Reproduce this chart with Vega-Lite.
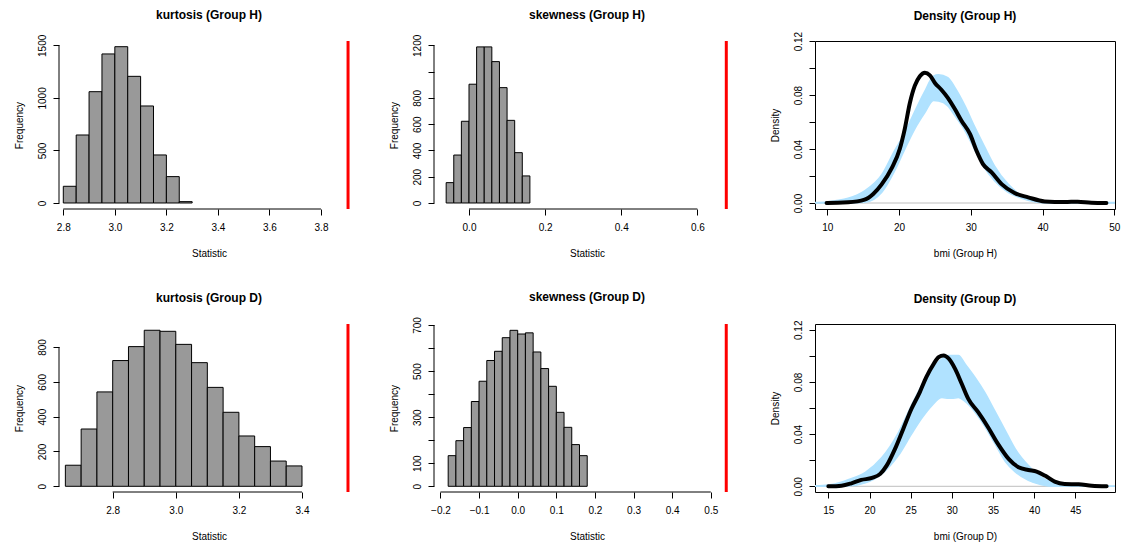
{
  "$schema": "https://vega.github.io/schema/vega-lite/v6.json",
  "padding": {"left": 13, "top": 9, "right": 0, "bottom": 0},
  "columns": 3,
  "bounds": "flush",
  "spacing": {"row": 115, "column": 75},
  "datasets": {
    "kH": [
      {"x": 2.80, "x2": 2.85, "count": 159}, {"x": 2.85, "x2": 2.90, "count": 647},
      {"x": 2.90, "x2": 2.95, "count": 1059}, {"x": 2.95, "x2": 3.00, "count": 1418},
      {"x": 3.00, "x2": 3.05, "count": 1487}, {"x": 3.05, "x2": 3.10, "count": 1205},
      {"x": 3.10, "x2": 3.15, "count": 923}, {"x": 3.15, "x2": 3.20, "count": 457},
      {"x": 3.20, "x2": 3.25, "count": 251}, {"x": 3.25, "x2": 3.30, "count": 13}
    ],
    "sH": [
      {"x": -0.06, "x2": -0.04, "count": 155}, {"x": -0.04, "x2": -0.02, "count": 365},
      {"x": -0.02, "x2": 0.00, "count": 622}, {"x": 0.00, "x2": 0.02, "count": 904},
      {"x": 0.02, "x2": 0.04, "count": 1188}, {"x": 0.04, "x2": 0.06, "count": 1188},
      {"x": 0.06, "x2": 0.08, "count": 1076}, {"x": 0.08, "x2": 0.10, "count": 878},
      {"x": 0.10, "x2": 0.12, "count": 629}, {"x": 0.12, "x2": 0.14, "count": 383},
      {"x": 0.14, "x2": 0.16, "count": 206}
    ],
    "kD": [
      {"x": 2.65, "x2": 2.70, "count": 121}, {"x": 2.70, "x2": 2.75, "count": 329},
      {"x": 2.75, "x2": 2.80, "count": 542}, {"x": 2.80, "x2": 2.85, "count": 722},
      {"x": 2.85, "x2": 2.90, "count": 802}, {"x": 2.90, "x2": 2.95, "count": 896},
      {"x": 2.95, "x2": 3.00, "count": 890}, {"x": 3.00, "x2": 3.05, "count": 815},
      {"x": 3.05, "x2": 3.10, "count": 710}, {"x": 3.10, "x2": 3.15, "count": 568},
      {"x": 3.15, "x2": 3.20, "count": 425}, {"x": 3.20, "x2": 3.25, "count": 289},
      {"x": 3.25, "x2": 3.30, "count": 228}, {"x": 3.30, "x2": 3.35, "count": 145},
      {"x": 3.35, "x2": 3.40, "count": 117}
    ],
    "sD": [
      {"x": -0.18, "x2": -0.16, "count": 133}, {"x": -0.16, "x2": -0.14, "count": 198},
      {"x": -0.14, "x2": -0.12, "count": 255}, {"x": -0.12, "x2": -0.10, "count": 368},
      {"x": -0.10, "x2": -0.08, "count": 456}, {"x": -0.08, "x2": -0.06, "count": 546},
      {"x": -0.06, "x2": -0.04, "count": 586}, {"x": -0.04, "x2": -0.02, "count": 645},
      {"x": -0.02, "x2": 0.00, "count": 677}, {"x": 0.00, "x2": 0.02, "count": 661},
      {"x": 0.02, "x2": 0.04, "count": 666}, {"x": 0.04, "x2": 0.06, "count": 583},
      {"x": 0.06, "x2": 0.08, "count": 511}, {"x": 0.08, "x2": 0.10, "count": 434},
      {"x": 0.10, "x2": 0.12, "count": 321}, {"x": 0.12, "x2": 0.14, "count": 256},
      {"x": 0.14, "x2": 0.16, "count": 181}, {"x": 0.16, "x2": 0.18, "count": 133}
    ],
    "obsH": [
      {"x": 9.9, "y": 0}, {"x": 10.0, "y": 0}, {"x": 12.9, "y": 0.0005}, {"x": 15.2, "y": 0.0025},
      {"x": 16.4, "y": 0.0067}, {"x": 17.6, "y": 0.014}, {"x": 19.0, "y": 0.026}, {"x": 20.1, "y": 0.040},
      {"x": 20.8, "y": 0.055}, {"x": 21.5, "y": 0.074}, {"x": 22.2, "y": 0.087}, {"x": 22.9, "y": 0.094},
      {"x": 23.6, "y": 0.0966}, {"x": 24.3, "y": 0.0946}, {"x": 25.0, "y": 0.089}, {"x": 25.9, "y": 0.084},
      {"x": 26.8, "y": 0.078}, {"x": 27.8, "y": 0.0695}, {"x": 28.7, "y": 0.061}, {"x": 29.9, "y": 0.051},
      {"x": 30.8, "y": 0.0387}, {"x": 31.7, "y": 0.0288}, {"x": 32.9, "y": 0.0227}, {"x": 34.3, "y": 0.014},
      {"x": 36.1, "y": 0.0074}, {"x": 38.0, "y": 0.0042}, {"x": 40.3, "y": 0.0012}, {"x": 43.1, "y": 0.0007},
      {"x": 44.9, "y": 0.001}, {"x": 46.8, "y": 0.0002}, {"x": 48.9, "y": 0}
    ],
    "bandH": [
      {"x": 8.3, "lo": 0, "hi": 0.0004}, {"x": 10.0, "lo": 0, "hi": 0.0008}, {"x": 11.1, "lo": 0, "hi": 0.0017},
      {"x": 12.9, "lo": 0, "hi": 0.0035}, {"x": 15.2, "lo": 0.0005, "hi": 0.009}, {"x": 17.6, "lo": 0.008, "hi": 0.021},
      {"x": 19.4, "lo": 0.024, "hi": 0.039}, {"x": 20.8, "lo": 0.040, "hi": 0.052}, {"x": 22.2, "lo": 0.055, "hi": 0.068},
      {"x": 23.6, "lo": 0.067, "hi": 0.083}, {"x": 24.8, "lo": 0.076, "hi": 0.094}, {"x": 25.5, "lo": 0.0757, "hi": 0.095},
      {"x": 26.8, "lo": 0.072, "hi": 0.093}, {"x": 27.8, "lo": 0.0646, "hi": 0.0855}, {"x": 29.2, "lo": 0.0535, "hi": 0.072},
      {"x": 30.5, "lo": 0.040, "hi": 0.057}, {"x": 31.9, "lo": 0.026, "hi": 0.042}, {"x": 33.3, "lo": 0.0165, "hi": 0.0276},
      {"x": 35.2, "lo": 0.0079, "hi": 0.014}, {"x": 37.1, "lo": 0.0035, "hi": 0.0054}, {"x": 38.9, "lo": 0.001, "hi": 0.0017},
      {"x": 40.8, "lo": 0, "hi": 0.0005}, {"x": 43.0, "lo": 0, "hi": 0.0003}, {"x": 46.0, "lo": 0, "hi": 0.0003},
      {"x": 50.1, "lo": 0, "hi": 0.0003}
    ],
    "obsD": [
      {"x": 15.0, "y": 0}, {"x": 16.6, "y": 0.0005}, {"x": 17.8, "y": 0.0023}, {"x": 19.0, "y": 0.0049},
      {"x": 20.3, "y": 0.0064}, {"x": 21.3, "y": 0.0095}, {"x": 22.1, "y": 0.016}, {"x": 23.1, "y": 0.0287},
      {"x": 24.1, "y": 0.044}, {"x": 25.1, "y": 0.0594}, {"x": 26.1, "y": 0.072}, {"x": 26.9, "y": 0.0837},
      {"x": 27.8, "y": 0.0939}, {"x": 28.4, "y": 0.099}, {"x": 29.0, "y": 0.1003}, {"x": 29.6, "y": 0.098},
      {"x": 30.4, "y": 0.090}, {"x": 31.2, "y": 0.0786}, {"x": 32.0, "y": 0.067}, {"x": 33.2, "y": 0.0568},
      {"x": 34.4, "y": 0.0453}, {"x": 35.6, "y": 0.0325}, {"x": 36.9, "y": 0.021}, {"x": 38.1, "y": 0.0146},
      {"x": 39.3, "y": 0.0125}, {"x": 40.3, "y": 0.0113}, {"x": 41.3, "y": 0.0082}, {"x": 42.5, "y": 0.0036},
      {"x": 43.7, "y": 0.0018}, {"x": 45.4, "y": 0.0015}, {"x": 47.0, "y": 0.0005}, {"x": 48.8, "y": 0}
    ],
    "bandD": [
      {"x": 13.4, "lo": 0, "hi": 0.0004}, {"x": 15.0, "lo": 0, "hi": 0.001}, {"x": 15.8, "lo": 0, "hi": 0.0018},
      {"x": 17.4, "lo": 0.0002, "hi": 0.005}, {"x": 19.5, "lo": 0.0026, "hi": 0.0107}, {"x": 21.5, "lo": 0.0095, "hi": 0.022},
      {"x": 23.5, "lo": 0.0235, "hi": 0.041}, {"x": 25.1, "lo": 0.040, "hi": 0.062}, {"x": 26.3, "lo": 0.0517, "hi": 0.077},
      {"x": 27.6, "lo": 0.062, "hi": 0.090}, {"x": 28.8, "lo": 0.068, "hi": 0.0977}, {"x": 29.6, "lo": 0.0675, "hi": 0.1003},
      {"x": 30.0, "lo": 0.0675, "hi": 0.1003}, {"x": 30.8, "lo": 0.068, "hi": 0.1003}, {"x": 31.6, "lo": 0.065, "hi": 0.0939},
      {"x": 32.8, "lo": 0.057, "hi": 0.0837}, {"x": 34.0, "lo": 0.046, "hi": 0.072}, {"x": 35.2, "lo": 0.033, "hi": 0.058},
      {"x": 36.5, "lo": 0.019, "hi": 0.0427}, {"x": 37.7, "lo": 0.011, "hi": 0.0287}, {"x": 39.3, "lo": 0.0045, "hi": 0.0159},
      {"x": 40.9, "lo": 0.0012, "hi": 0.0069}, {"x": 42.5, "lo": 0, "hi": 0.0026}, {"x": 44.1, "lo": 0, "hi": 0.0005},
      {"x": 46.0, "lo": 0, "hi": 0.0003}, {"x": 49.8, "lo": 0, "hi": 0.0003}
    ]
  },
  "concat": [
    {
      "width": 300, "height": 168,
      "title": {"text": "kurtosis (Group H)", "offset": 12},
      "layer": [
        {
          "data": {"name": "kH"},
          "mark": {"type": "rect", "fill": "#999999", "stroke": "black", "strokeWidth": 1},
          "encoding": {
            "x": {"field": "x", "type": "quantitative", "scale": {"domain": [2.7833, 3.9475], "nice": false, "zero": false},
                  "axis": {"values": [2.8, 3.0, 3.2, 3.4, 3.6, 3.8], "tickCount": 50, "format": ".1f", "title": "Statistic"}},
            "x2": {"field": "x2"},
            "y": {"field": "count", "type": "quantitative", "scale": {"domain": [-57.1, 1541.2], "nice": false, "zero": false},
                  "axis": {"values": [0, 500, 1000, 1500], "tickCount": 50, "format": "d", "title": "Frequency"}},
            "y2": {"datum": 0}
          }
        },
        {
          "data": {"values": [{"x": 2.8, "x2": 3.8}]},
          "mark": {"type": "rule", "color": "black", "strokeWidth": 1},
          "encoding": {"x": {"field": "x", "type": "quantitative", "title": "Statistic"}, "x2": {"field": "x2"}, "y": {"value": "height"}}
        },
        {
          "data": {"values": [{"y": 0, "y2": 1500}]},
          "mark": {"type": "rule", "color": "black", "strokeWidth": 1},
          "encoding": {"y": {"field": "y", "type": "quantitative", "title": "Frequency"}, "y2": {"field": "y2"}, "x": {"value": 0}}
        },
        {
          "data": {"values": [{"x": 3.905}]},
          "mark": {"type": "rule", "color": "#FF0000", "strokeWidth": 3},
          "encoding": {"x": {"field": "x", "type": "quantitative", "title": "Statistic"}}
        }
      ]
    },
    {
      "width": 306, "height": 168,
      "title": {"text": "skewness (Group H)", "offset": 12},
      "layer": [
        {
          "data": {"name": "sH"},
          "mark": {"type": "rect", "fill": "#999999", "stroke": "black", "strokeWidth": 1},
          "encoding": {
            "x": {"field": "x", "type": "quantitative", "scale": {"domain": [-0.09196, 0.712], "nice": false, "zero": false},
                  "axis": {"values": [0.0, 0.2, 0.4, 0.6], "tickCount": 50, "format": ".1f", "title": "Statistic"}},
            "x2": {"field": "x2"},
            "y": {"field": "count", "type": "quantitative", "scale": {"domain": [-45.7, 1232.9], "nice": false, "zero": false},
                  "axis": {"values": [0, 200, 400, 600, 800, 1000, 1200], "tickCount": 50, "format": "d", "labelExpr": "datum.value == 1000 ? '' : datum.label", "title": "Frequency"}},
            "y2": {"datum": 0}
          }
        },
        {
          "data": {"values": [{"x": 0.0, "x2": 0.6}]},
          "mark": {"type": "rule", "color": "black", "strokeWidth": 1},
          "encoding": {"x": {"field": "x", "type": "quantitative", "title": "Statistic"}, "x2": {"field": "x2"}, "y": {"value": "height"}}
        },
        {
          "data": {"values": [{"y": 0, "y2": 1200}]},
          "mark": {"type": "rule", "color": "black", "strokeWidth": 1},
          "encoding": {"y": {"field": "y", "type": "quantitative", "title": "Frequency"}, "y2": {"field": "y2"}, "x": {"value": 0}}
        },
        {
          "data": {"values": [{"x": 0.676}]},
          "mark": {"type": "rule", "color": "#FF0000", "strokeWidth": 3},
          "encoding": {"x": {"field": "x", "type": "quantitative", "title": "Statistic"}}
        }
      ]
    },
    {
      "width": 300, "height": 168,
      "title": {"text": "Density (Group H)", "offset": 8},
      "view": {"stroke": "black", "strokeWidth": 1},
      "layer": [
        {
          "data": {"values": [{"y": 0}]},
          "mark": {"type": "rule", "color": "#BEBEBE", "strokeWidth": 1},
          "encoding": {"y": {"field": "y", "type": "quantitative", "title": "Density"}}
        },
        {
          "data": {"name": "bandH"},
          "mark": {"type": "area", "fill": "#B0E2FF", "stroke": "#B0E2FF", "strokeWidth": 1.5, "interpolate": "monotone", "clip": true},
          "encoding": {
            "x": {"field": "x", "type": "quantitative", "scale": {"domain": [8.286, 50.1], "nice": false, "zero": false},
                  "axis": {"values": [10, 20, 30, 40, 50], "tickCount": 50, "format": "d", "title": "bmi (Group H)"}},
            "y": {"field": "hi", "type": "quantitative", "scale": {"domain": [-0.00444, 0.1201], "nice": false, "zero": false},
                  "axis": {"values": [0, 0.02, 0.04, 0.06, 0.08, 0.10, 0.12], "tickCount": 50, "labelExpr": "round(datum.value * 100) % 4 == 0 ? format(datum.value, '.2f') : ''", "title": "Density"}},
            "y2": {"field": "lo"}
          }
        },
        {
          "data": {"name": "obsH"},
          "mark": {"type": "line", "color": "black", "strokeWidth": 4, "interpolate": "monotone", "strokeCap": "round", "strokeJoin": "round"},
          "encoding": {
            "x": {"field": "x", "type": "quantitative", "title": "bmi (Group H)"},
            "y": {"field": "y", "type": "quantitative", "title": "Density"}
          }
        }
      ]
    },
    {
      "width": 300, "height": 168,
      "title": {"text": "kurtosis (Group D)", "offset": 18},
      "layer": [
        {
          "data": {"name": "kD"},
          "mark": {"type": "rect", "fill": "#999999", "stroke": "black", "strokeWidth": 1},
          "encoding": {
            "x": {"field": "x", "type": "quantitative", "scale": {"domain": [2.6298, 3.5807], "nice": false, "zero": false},
                  "axis": {"values": [2.8, 3.0, 3.2, 3.4], "tickCount": 50, "format": ".1f", "title": "Statistic"}},
            "x2": {"field": "x2"},
            "y": {"field": "count", "type": "quantitative", "scale": {"domain": [-32.7, 931.9], "nice": false, "zero": false},
                  "axis": {"values": [0, 200, 400, 600, 800], "tickCount": 50, "format": "d", "title": "Frequency"}},
            "y2": {"datum": 0}
          }
        },
        {
          "data": {"values": [{"x": 2.8, "x2": 3.4}]},
          "mark": {"type": "rule", "color": "black", "strokeWidth": 1},
          "encoding": {"x": {"field": "x", "type": "quantitative", "title": "Statistic"}, "x2": {"field": "x2"}, "y": {"value": "height"}}
        },
        {
          "data": {"values": [{"y": 0, "y2": 800}]},
          "mark": {"type": "rule", "color": "black", "strokeWidth": 1},
          "encoding": {"y": {"field": "y", "type": "quantitative", "title": "Frequency"}, "y2": {"field": "y2"}, "x": {"value": 0}}
        },
        {
          "data": {"values": [{"x": 3.5458}]},
          "mark": {"type": "rule", "color": "#FF0000", "strokeWidth": 3},
          "encoding": {"x": {"field": "x", "type": "quantitative", "title": "Statistic"}}
        }
      ]
    },
    {
      "width": 306, "height": 168,
      "title": {"text": "skewness (Group D)", "offset": 13},
      "layer": [
        {
          "data": {"name": "sD"},
          "mark": {"type": "rect", "fill": "#999999", "stroke": "black", "strokeWidth": 1},
          "encoding": {
            "x": {"field": "x", "type": "quantitative", "scale": {"domain": [-0.2167, 0.5756], "nice": false, "zero": false},
                  "axis": {"values": [-0.2, -0.1, 0.0, 0.1, 0.2, 0.3, 0.4, 0.5], "tickCount": 50, "format": ".1f", "labelExpr": "replace(datum.label, '-', '\u2212')", "title": "Statistic"}},
            "x2": {"field": "x2"},
            "y": {"field": "count", "type": "quantitative", "scale": {"domain": [-24.7, 704.4], "nice": false, "zero": false},
                  "axis": {"values": [0, 100, 200, 300, 400, 500, 600, 700], "tickCount": 50, "format": "d", "labelExpr": "(datum.value == 200 || datum.value == 400 || datum.value == 600) ? '' : datum.label", "title": "Frequency"}},
            "y2": {"datum": 0}
          }
        },
        {
          "data": {"values": [{"x": -0.2, "x2": 0.5}]},
          "mark": {"type": "rule", "color": "black", "strokeWidth": 1},
          "encoding": {"x": {"field": "x", "type": "quantitative", "title": "Statistic"}, "x2": {"field": "x2"}, "y": {"value": "height"}}
        },
        {
          "data": {"values": [{"y": 0, "y2": 700}]},
          "mark": {"type": "rule", "color": "black", "strokeWidth": 1},
          "encoding": {"y": {"field": "y", "type": "quantitative", "title": "Frequency"}, "y2": {"field": "y2"}, "x": {"value": 0}}
        },
        {
          "data": {"values": [{"x": 0.540}]},
          "mark": {"type": "rule", "color": "#FF0000", "strokeWidth": 3},
          "encoding": {"x": {"field": "x", "type": "quantitative", "title": "Statistic"}}
        }
      ]
    },
    {
      "width": 300, "height": 168,
      "title": {"text": "Density (Group D)", "offset": 14},
      "view": {"stroke": "black", "strokeWidth": 1},
      "layer": [
        {
          "data": {"values": [{"y": 0}]},
          "mark": {"type": "rule", "color": "#BEBEBE", "strokeWidth": 1},
          "encoding": {"y": {"field": "y", "type": "quantitative", "title": "Density"}}
        },
        {
          "data": {"name": "bandD"},
          "mark": {"type": "area", "fill": "#B0E2FF", "stroke": "#B0E2FF", "strokeWidth": 1.5, "interpolate": "monotone", "clip": true},
          "encoding": {
            "x": {"field": "x", "type": "quantitative", "scale": {"domain": [13.38, 49.82], "nice": false, "zero": false},
                  "axis": {"values": [15, 20, 25, 30, 35, 40, 45], "tickCount": 50, "format": "d", "title": "bmi (Group D)"}},
            "y": {"field": "hi", "type": "quantitative", "scale": {"domain": [-0.00437, 0.1244], "nice": false, "zero": false},
                  "axis": {"values": [0, 0.02, 0.04, 0.06, 0.08, 0.10, 0.12], "tickCount": 50, "labelExpr": "round(datum.value * 100) % 4 == 0 ? format(datum.value, '.2f') : ''", "title": "Density"}},
            "y2": {"field": "lo"}
          }
        },
        {
          "data": {"name": "obsD"},
          "mark": {"type": "line", "color": "black", "strokeWidth": 4, "interpolate": "monotone", "strokeCap": "round", "strokeJoin": "round"},
          "encoding": {
            "x": {"field": "x", "type": "quantitative", "title": "bmi (Group D)"},
            "y": {"field": "y", "type": "quantitative", "title": "Density"}
          }
        }
      ]
    }
  ],
  "config": {
    "font": "Liberation Sans",
    "view": {"stroke": null},
    "title": {"font": "Liberation Sans", "fontSize": 12, "fontWeight": "bold", "color": "black", "anchor": "middle", "frame": "group"},
    "axis": {
      "domain": false, "grid": false, "ticks": true, "tickColor": "black", "tickSize": 6, "tickWidth": 1, "tickCount": 50,
      "labelFont": "Liberation Sans", "labelFontSize": 10, "labelColor": "black", "labelOverlap": false, "labelFlush": false,
      "titleFont": "Liberation Sans", "titleFontSize": 10, "titleFontWeight": "normal", "titleColor": "black"
    },
    "axisX": {"labelPadding": 7, "titlePadding": 16},
    "axisY": {"labelAngle": 270, "labelAlign": "center", "labelBaseline": "alphabetic", "labelPadding": 8, "titlePadding": 13}
  }
}
